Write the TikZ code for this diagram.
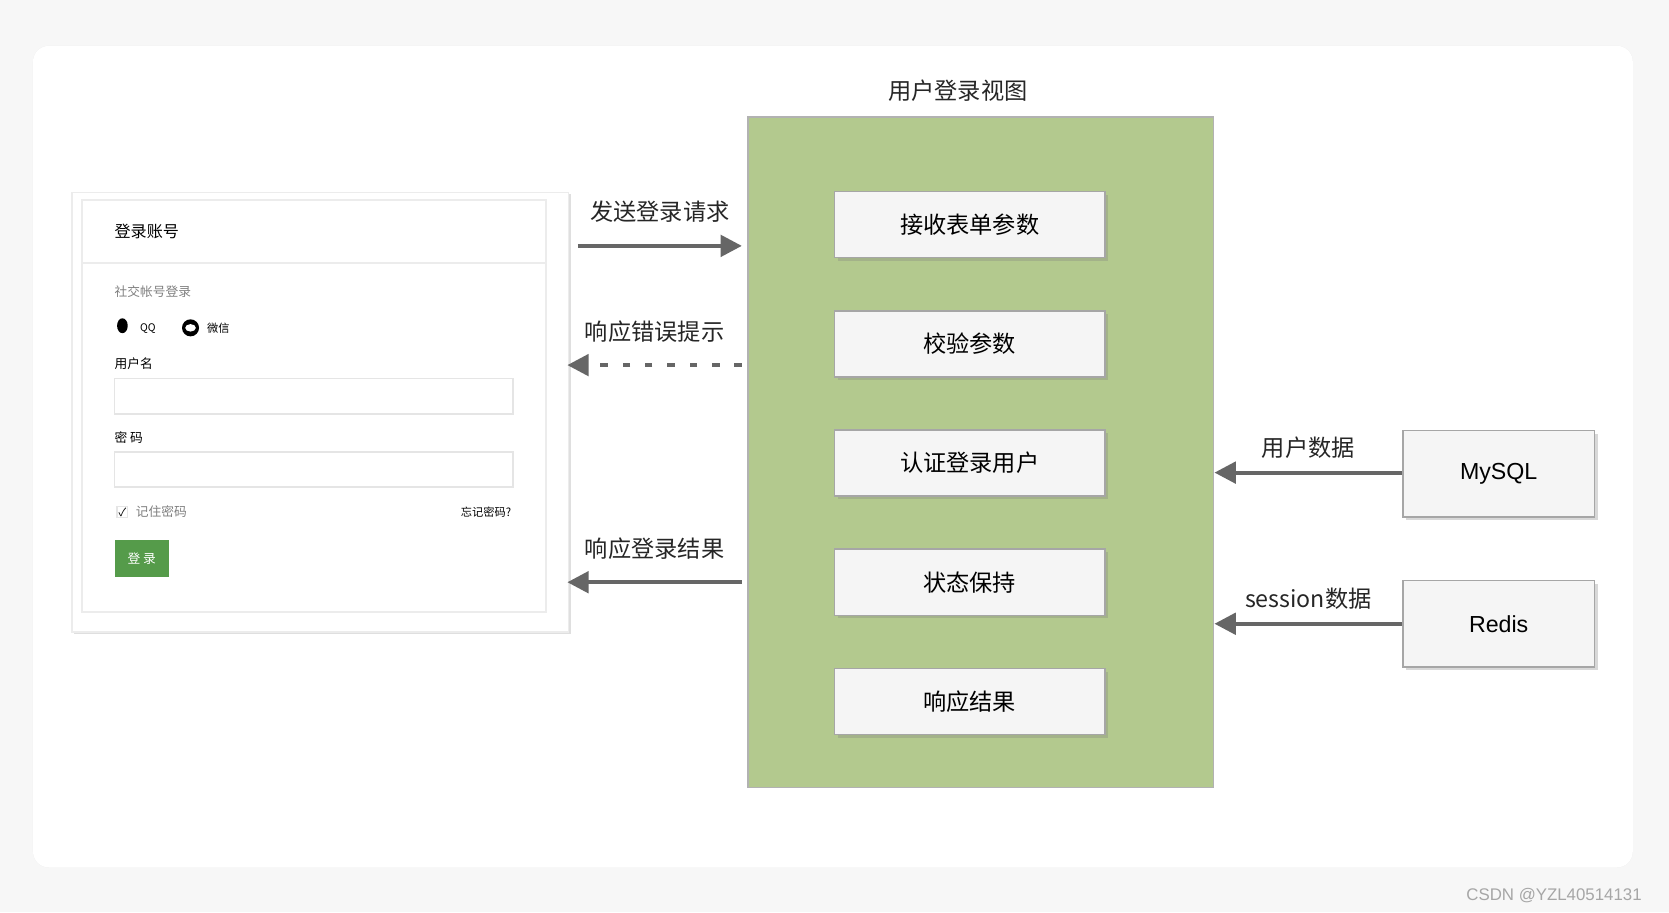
\documentclass[tikz,border=0pt]{standalone}
\usepackage{fontspec}
\setmainfont{Noto Sans CJK SC}
\setsansfont{Liberation Sans}
\usetikzlibrary{arrows.meta,shadows}
\definecolor{panelgreen}{HTML}{B3C98E}
\definecolor{arrowgray}{HTML}{666666}
\definecolor{btngreen}{HTML}{559B4A}
\begin{document}
\begin{tikzpicture}[x=0.01cm, y=-0.01cm]

  % Define custom styles
  \tikzset{
    stepbox/.style={draw=gray!70, fill=gray!8, minimum width=2.54cm, minimum height=0.62cm,
      font=\fontsize{6.2}{7}\selectfont, drop shadow={opacity=0.3, shadow xshift=0.03cm, shadow yshift=-0.03cm}},
    dbbox/.style={draw=gray!70, fill=gray!8, minimum width=1.8cm, minimum height=0.81cm,
      font=\fontsize{6.2}{7}\selectfont\sffamily, drop shadow={opacity=0.3, shadow xshift=0.03cm, shadow yshift=-0.03cm}},
    flow/.style={arrowgray, line width=1.1pt, -{Triangle[length=0.2cm, width=0.2cm]}},
    flowlabel/.style={text=black!85, font=\fontsize{6.2}{7}\selectfont},
    formtext/.style={anchor=west, inner sep=0pt, font=\fontsize{3.4}{4}\selectfont},
    inputbox/.style={draw=gray!20, fill=white, minimum width=3.74cm, minimum height=0.33cm, anchor=north west}
  }

  \useasboundingbox (0,0) rectangle (1568,857);
  \fill[gray!6] (0,0) rectangle (1568,857);
  \fill[white, rounded corners=0.15cm, drop shadow={opacity=0.15, shadow xshift=0cm, shadow yshift=0cm}]
    (31,43) rectangle (1534,815);

  % Login form
  \node[draw=gray!15, fill=white, minimum width=4.66cm, minimum height=4.13cm, anchor=north west,
    drop shadow={opacity=0.25, shadow xshift=0.02cm, shadow yshift=-0.02cm}] (form) at (67,180) {};
  \draw[gray!15] (77,188) rectangle (513,575);
  \draw[gray!15] (77,247) -- (513,247);
  \node[formtext, font=\fontsize{4.3}{5}\selectfont] (account) at (107,217) {登录账号};
  \node[formtext, gray] (social) at (107,274) {社交帐号登录};
  \fill[black] (115,306) ellipse (5 and 7);
  \node[formtext, font=\fontsize{2.8}{3}\selectfont\rmfamily] (qq) at (131,309) {QQ};
  \fill[black] (179,308) circle (8);
  \fill[white] (179,308) ellipse (5 and 3.5);
  \node[formtext, font=\fontsize{3}{3.5}\selectfont] (wechat) at (194,308) {微信};
  \node[formtext] (username) at (107,342) {用户名};
  \node[inputbox] (userbox) at (107,355) {};
  \node[formtext] (password) at (107,411) {密 码};
  \node[inputbox] (pwdbox) at (107,424) {};
  \node[draw=gray!20, minimum size=0.1cm, inner sep=0pt, font=\fontsize{3}{3}\selectfont] (check) at (115,481) {✓};
  \node[formtext, gray] (remember) at (127,481) {记住密码};
  \node[formtext, anchor=east, font=\fontsize{3}{3.5}\selectfont] (forget) at (481,481) {忘记密码?};
  \node[fill=btngreen, text=white, minimum width=0.51cm, minimum height=0.31cm, anchor=north west,
    font=\fontsize{3.4}{4}\selectfont] (loginbtn) at (107,507) {登 录};

  % View panel
  \node[draw=gray!60, fill=panelgreen, minimum width=4.37cm, minimum height=6.30cm, anchor=north west] (view) at (702,109) {};
  \node[flowlabel] (viewtitle) at (900,85) {用户登录视图};
  \node[stepbox] (s1) at (911,211) {接收表单参数};
  \node[stepbox] (s2) at (911,323) {校验参数};
  \node[stepbox] (s3) at (911,435) {认证登录用户};
  \node[stepbox] (s4) at (911,547) {状态保持};
  \node[stepbox] (s5) at (911,659) {响应结果};

  % Storage
  \node[dbbox] (mysql) at (1408,445) {MySQL};
  \node[dbbox] (redis) at (1408,586) {Redis};

  % Connectors
  \coordinate (reqa) at (543,231); \coordinate (reqb) at (697,231);
  \coordinate (erra) at (697,343); \coordinate (errb) at (533,343);
  \coordinate (resa) at (697,547); \coordinate (resb) at (533,547);
  \coordinate (usr) at (1141,444); \coordinate (ses) at (1141,586);
  \draw[flow] (reqa) -- (reqb) node[flowlabel, midway, above=0.08cm] {发送登录请求};
  \draw[flow, dash pattern=on 0.07cm off 0.14cm] (erra) -- (errb) node[flowlabel, midway, above=0.08cm] {响应错误提示};
  \draw[flow] (resa) -- (resb) node[flowlabel, midway, above=0.08cm] {响应登录结果};
  \draw[flow] (mysql.west |- usr) -- (usr) node[flowlabel, midway, above=0cm] {用户数据};
  \draw[flow] (redis.west |- ses) -- (ses) node[flowlabel, midway, above=0cm] {session数据};

  \node[gray!70, font=\fontsize{4.5}{5}\selectfont\sffamily] (mark) at (1460,841) {CSDN @YZL40514131};
\end{tikzpicture}
\end{document}
